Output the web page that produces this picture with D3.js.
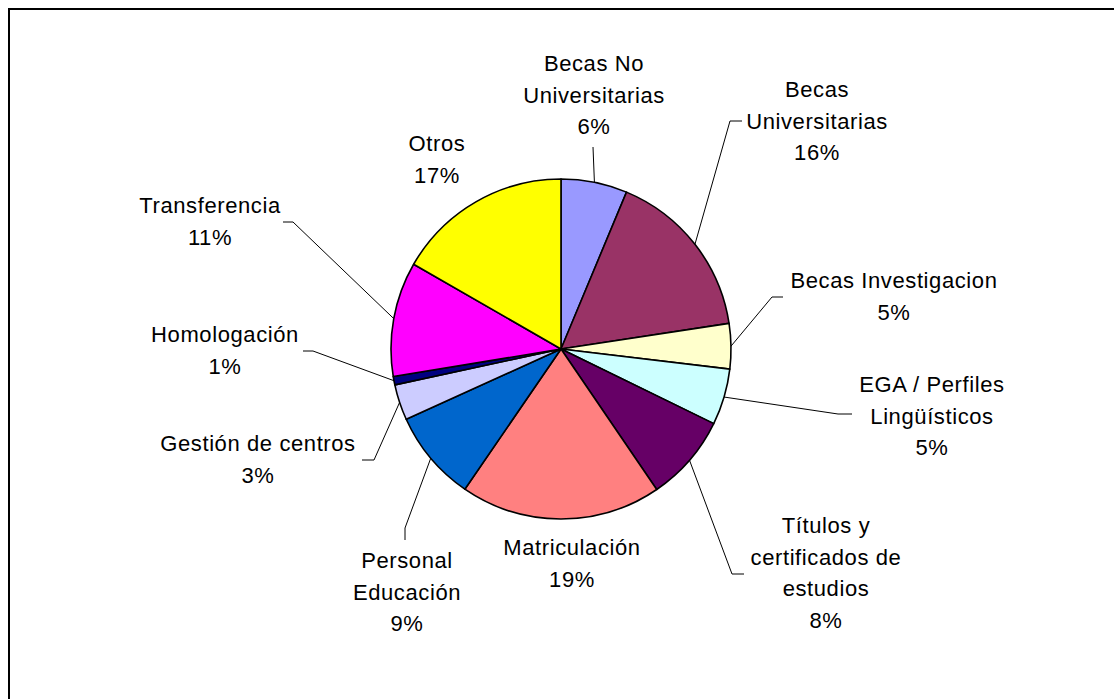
<!DOCTYPE html>
<html lang="es">
<head>
<meta charset="utf-8">
<title>Distribución de consultas</title>
<script src="https://d3js.org/d3.v7.min.js"></script>
<style>
  body { margin: 0; background: #fff; }
  svg text { font-family: "Liberation Sans", Arial, sans-serif; font-size: 22px; letter-spacing: 0.6px; fill: #000; }
</style>
</head>
<body>
<div id="chart"></div>
<script>
// categories, clockwise from 12 o'clock
var categories = ["Becas No Universitarias", "Becas Universitarias", "Becas Investigacion",
  "EGA / Perfiles Lingüísticos", "Títulos y certificados de estudios", "Matriculación",
  "Personal Educación", "Gestión de centros", "Homologación", "Transferencia", "Otros"];
// share of total (%)
var values = [6.3, 16.3, 4.3, 5.35, 8.25, 19.1, 8.65, 3.4, 0.8, 10.9, 16.7];
// percentage labels as printed on the chart
var pctLabels = ["6%", "16%", "5%", "5%", "8%", "19%", "9%", "3%", "1%", "11%", "17%"];
var colors = ["#9999FF", "#993366", "#FFFFCC", "#CCFFFF", "#660066", "#FF8080",
  "#0066CC", "#CCCCFF", "#000080", "#FF00FF", "#FFFF00"];

// label placement (wrapped lines, centre x, first baseline, leader elbow points)
var labelLayout = [
  {lines: ["Becas No", "Universitarias"], x: 594, y: 71, leader: [[593, 147]]},
  {lines: ["Becas", "Universitarias"], x: 817, y: 97, leader: [[730, 121], [742, 121]]},
  {lines: ["Becas Investigacion"], x: 894, y: 288, leader: [[772, 297], [783, 297]]},
  {lines: ["EGA / Perfiles", "Lingüísticos"], x: 932, y: 392, leader: [[838, 414], [852, 414]]},
  {lines: ["Títulos y", "certificados de", "estudios"], x: 826, y: 533, leader: [[732, 574], [744, 574]]},
  {lines: ["Matriculación"], x: 572, y: 555, leader: null},
  {lines: ["Personal", "Educación"], x: 407, y: 568, leader: [[405, 528], [405, 540]]},
  {lines: ["Gestión de centros"], x: 258, y: 451, leader: [[374, 460], [362, 460]]},
  {lines: ["Homologación"], x: 225, y: 342, leader: [[313, 351], [303, 351]]},
  {lines: ["Transferencia"], x: 210, y: 213, leader: [[293, 222], [283, 222]]},
  {lines: ["Otros"], x: 437, y: 151, leader: null}
];

var width = 1114, height = 699;
var cx = 561, cy = 349, radius = 170;
var lineGap = 31.5;

var svg = d3.select("#chart")
  .append("svg")
    .attr("width", width)
    .attr("height", height);

// chart area frame (runs off the right and bottom of the picture)
svg.append("rect")
  .attr("x", 9).attr("y", 9)
  .attr("width", 1120).attr("height", 720)
  .attr("fill", "none")
  .attr("stroke", "#000")
  .attr("stroke-width", 2);

var data = categories.map(function(c, i) {
  return {name: c, value: values[i], pct: pctLabels[i], color: colors[i], layout: labelLayout[i]};
});

var pie = d3.pie()
  .sort(null)
  .value(function(d) { return d.value; });

var arc = d3.arc()
  .innerRadius(0)
  .outerRadius(radius);

var arcs = pie(data);

var g = svg.append("g")
  .attr("transform", "translate(" + cx + "," + cy + ")");

g.selectAll("path")
  .data(arcs)
  .enter()
  .append("path")
    .attr("d", arc)
    .attr("fill", function(d) { return d.data.color; })
    .attr("stroke", "#000")
    .attr("stroke-width", 1.6)
    .attr("stroke-linejoin", "round");

// leader lines: from the slice's outer edge to the label
var line = d3.line();
svg.selectAll("path.leader")
  .data(arcs.filter(function(d) { return d.data.layout.leader; }))
  .enter()
  .append("path")
    .attr("class", "leader")
    .attr("fill", "none")
    .attr("stroke", "#000")
    .attr("stroke-width", 1)
    .attr("d", function(d) {
      var a = (d.startAngle + d.endAngle) / 2;
      var start = [cx + radius * Math.sin(a), cy - radius * Math.cos(a)];
      return line([start].concat(d.data.layout.leader));
    });

// labels
var labels = svg.selectAll("text.lbl")
  .data(arcs)
  .enter()
  .append("text")
    .attr("class", "lbl")
    .attr("text-anchor", "middle");

labels.each(function(d) {
  var t = d3.select(this);
  var L = d.data.layout;
  L.lines.concat([d.data.pct]).forEach(function(s, i) {
    t.append("tspan")
      .attr("x", L.x)
      .attr("y", L.y + i * lineGap)
      .text(s);
  });
});
</script>
</body>
</html>
